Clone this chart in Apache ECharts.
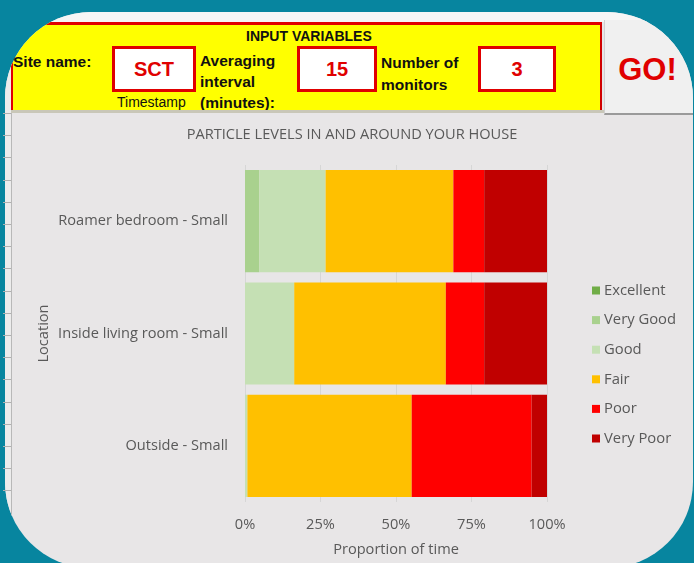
<!DOCTYPE html>
<html>
<head>
<meta charset="utf-8">
<script src="https://cdn.jsdelivr.net/npm/echarts@6/dist/echarts.min.js"></script>
<style>
  html, body { margin: 0; padding: 0; width: 694px; height: 563px; overflow: hidden; background: #07859f; }
  #frame { position: absolute; left: 5px; top: 12px; width: 688px; height: 556px; border-radius: 86px; overflow: hidden; background: #e8e6e7; }
  .abs { position: absolute; }
  .hdr { position: absolute; font-family: 'Liberation Sans Narrow', 'Arial Narrow', sans-serif; font-weight: bold; color: #111; font-size: 15.5px; line-height: 20px; white-space: nowrap; }
  .box { position: absolute; background: #fff; border: 3px solid #e00000; box-sizing: border-box; color: #e00000; font-family: 'Liberation Sans Narrow', 'Arial Narrow', sans-serif; font-weight: bold; font-size: 20px; display: flex; align-items: center; justify-content: center; }
  #clip { position: absolute; left: 12px; top: 22px; width: 589px; height: 88px; overflow: hidden; }
  #chart { position: absolute; left: 0; top: 0; width: 694px; height: 563px; }
</style>
</head>
<body>
<div id="frame">
  <div class="abs" style="left:0;top:0;width:688px;height:10px;background:#f6f6f6;"></div>
  <div class="abs" style="left:0;top:0;width:6px;height:556px;background:#ececec;border-right:1px solid #b8b8b8;"></div>
  <div class="abs" style="left:6px;top:10px;width:591px;height:88px;background:#ffff00;border-top:3px solid #e00000;border-left:2px solid #e00000;border-right:2px solid #d00000;box-sizing:border-box;"></div>
  <div class="abs" style="left:6px;top:98px;width:593px;height:3px;background:#c9c7b8;"></div>
  <div class="abs" style="left:599px;top:8px;width:95px;height:93px;background:#f0f0f0;border-bottom:2px solid #9a9a9a;border-left:1px solid #d0d0d0;"></div>
</div>
<div id="rowticks"></div>

<div id="clip">
  <div class="hdr" style="left:234px;top:4px;font-size:14px;">INPUT VARIABLES</div>
  <div class="hdr" style="left:1px;top:30px;">Site name:</div>
  <div class="box" style="left:100px;top:24px;width:84px;height:46px;">SCT</div>
  <div class="hdr" style="left:188px;top:28px;line-height:21px;">Averaging<br>interval<br>(minutes):</div>
  <div class="box" style="left:285px;top:24px;width:80px;height:46px;">15</div>
  <div class="hdr" style="left:369px;top:30px;line-height:22px;">Number of<br>monitors</div>
  <div class="box" style="left:466px;top:24px;width:78px;height:46px;">3</div>
  <div class="abs" style="left:105px;top:72px;font-family:'Liberation Sans Narrow','Arial Narrow',sans-serif;font-size:14px;color:#111;">Timestamp</div>
</div>
<div class="abs" style="left:604px;top:52px;width:87px;text-align:center;font-family:'Liberation Sans', Arial, sans-serif;font-weight:bold;font-size:31px;color:#e00000;">GO!</div>

<div id="chart"></div>
<script>
var categories = ['Roamer bedroom - Small', 'Inside living room - Small', 'Outside - Small'];
var seriesNames = ['Excellent', 'Very Good', 'Good', 'Fair', 'Poor', 'Very Poor'];
var seriesColors = ['#70ad47', '#a9d18e', '#c5e0b4', '#ffc000', '#ff0000', '#c00000'];
var excellent = [0, 0, 0];
var veryGood  = [4.7, 0, 0];
var good      = [22.0, 16.3, 0.8];
var fair      = [42.3, 50.2, 54.4];
var poor      = [10.2, 12.7, 39.7];
var veryPoor  = [20.8, 20.8, 5.1];
var xTicks = [0, 25, 50, 75, 100];
var seriesValues = [excellent, veryGood, good, fair, poor, veryPoor];

var txt = '#595959';
var font = 'Open Sans';
var fs = 14.6;

var chart = echarts.init(document.getElementById('chart'), null, { renderer: 'canvas' });
chart.setOption({
  backgroundColor: 'transparent',
  animation: false,
  title: {
    text: 'PARTICLE LEVELS IN AND AROUND YOUR HOUSE',
    left: 352, top: 127, padding: 0, textAlign: 'center',
    textStyle: { color: txt, fontFamily: font, fontSize: fs, fontWeight: 'normal' }
  },
  legend: {
    orient: 'vertical', left: 592, top: 282, padding: 0,
    itemWidth: 8, itemHeight: 8, itemGap: 12.6, icon: 'rect',
    data: seriesNames,
    textStyle: { color: txt, fontFamily: font, fontSize: 14.8, lineHeight: 17, padding: [0, 0, 0, -1] }
  },
  grid: { left: 245, right: 147, top: 165, bottom: 61, containLabel: false },
  xAxis: {
    type: 'value', min: 0, max: 100, interval: 25,
    axisLine: { show: false }, axisTick: { show: false },
    splitLine: { show: true, lineStyle: { color: '#d6d6d6', width: 1 } },
    axisLabel: { color: txt, fontFamily: font, fontSize: fs, margin: 15,
      formatter: function (v) { return xTicks.indexOf(v) >= 0 ? v + '%' : ''; } },
    name: 'Proportion of time', nameLocation: 'middle', nameGap: 40,
    nameTextStyle: { color: txt, fontFamily: font, fontSize: fs }
  },
  yAxis: {
    type: 'category', inverse: true, data: categories,
    axisLine: { show: false }, axisTick: { show: false },
    axisLabel: { color: txt, fontFamily: font, fontSize: fs, margin: 17 },
    name: 'Location', nameLocation: 'middle', nameRotate: 90, nameGap: 194,
    nameTextStyle: { color: txt, fontFamily: font, fontSize: fs }
  },
  series: seriesNames.map(function (n, i) {
    return {
      name: n, type: 'bar', stack: 'total', barCategoryGap: '9%',
      itemStyle: { color: seriesColors[i] },
      data: seriesValues[i]
    };
  })
});

// row header ticks on the left edge
(function(){
  var host = document.getElementById('rowticks');
  for (var y = 113; y < 500; y += 22.2) {
    var d = document.createElement('div');
    d.style.cssText = 'position:absolute;left:3px;top:' + Math.round(y) + 'px;width:8px;height:1px;background:#b0b0b0;';
    host.appendChild(d);
  }
})();
</script>
</body>
</html>
